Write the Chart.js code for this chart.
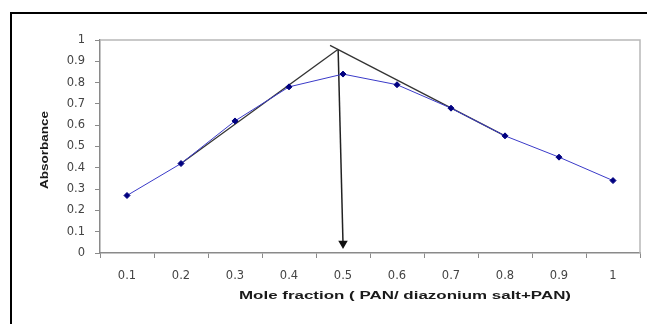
<!DOCTYPE html>
<html>
<head>
<meta charset="utf-8">
<script src="https://cdn.jsdelivr.net/npm/chart.js@4"></script>
<style>
  html, body { margin: 0; padding: 0; background: #fff; }
  #wrap { width: 647px; height: 324px; position: relative; }
</style>
</head>
<body>
<div id="wrap"><canvas id="chart" width="647" height="324"></canvas></div>
<script>
// categories and measured values
const fractions = ["0.1", "0.2", "0.3", "0.4", "0.5", "0.6", "0.7", "0.8", "0.9", "1"];
const absorbance = [0.27, 0.42, 0.62, 0.78, 0.84, 0.79, 0.68, 0.55, 0.45, 0.34];

// tangent lines and arrow (mole fraction, absorbance)
const leftTangentX = [0.2, 0.491];
const leftTangentY = [0.42, 0.957];
const rightTangentX = [0.476, 0.8];
const rightTangentY = [0.975, 0.55];
const arrowX = [0.491, 0.5];
const arrowY = [0.957, 0.045];

const xTitle = "Mole fraction ( PAN/ diazonium salt+PAN)";
const yTitle = "Absorbance";

const toPoints = (xs, ys) => xs.map((x, i) => ({ x: x, y: ys[i] }));

// text stretched to a given width, like the scanned original
function stretchedText(ctx, text, x, y, width, angle) {
  ctx.save();
  ctx.font = "bold 11px 'Liberation Sans', Arial, sans-serif";
  ctx.fillStyle = "#1a1a1a";
  ctx.textAlign = "center";
  ctx.textBaseline = "middle";
  const w = ctx.measureText(text).width;
  ctx.translate(x, y);
  ctx.rotate(angle);
  ctx.scale(width / w, 1);
  ctx.fillText(text, 0, 0);
  ctx.restore();
}

// outer frame, plot border and axis titles
const framePlugin = {
  id: "frame",
  beforeDraw(chart) {
    const ctx = chart.ctx;
    ctx.save();
    ctx.strokeStyle = "#000";
    ctx.lineWidth = 2;
    ctx.beginPath();
    ctx.moveTo(11, 330);
    ctx.lineTo(11, 13);
    ctx.lineTo(660, 13);
    ctx.stroke();
    ctx.restore();
  },
  afterDatasetsDraw(chart) {
    const ctx = chart.ctx;
    const a = chart.chartArea;
    ctx.save();
    ctx.strokeStyle = "#b8b8b8";
    ctx.lineWidth = 1.5;
    ctx.beginPath();
    ctx.moveTo(a.left, a.top);
    ctx.lineTo(a.right, a.top);
    ctx.lineTo(a.right, a.bottom);
    ctx.stroke();
    ctx.restore();
    stretchedText(ctx, xTitle, 405, 296, 332, 0);
    stretchedText(ctx, yTitle, 45, 150, 78, -Math.PI / 2);
  }
};

const tickFont = { family: "'DejaVu Sans', sans-serif", size: 11.5 };

const ctx = document.getElementById("chart");

new Chart(ctx, {
  type: "line",
  data: {
    labels: fractions,
    datasets: [
      {
        label: "Absorbance",
        data: absorbance,
        xAxisID: "x",
        borderColor: "#3a3ac8",
        borderWidth: 1,
        backgroundColor: "#000080",
        pointBackgroundColor: "#000080",
        pointBorderColor: "#000080",
        pointStyle: "rectRot",
        pointRadius: 3,
        tension: 0
      },
      {
        label: "left tangent",
        data: toPoints(leftTangentX, leftTangentY),
        xAxisID: "xl",
        borderColor: "#333",
        borderWidth: 1.3,
        pointRadius: 0
      },
      {
        label: "right tangent",
        data: toPoints(rightTangentX, rightTangentY),
        xAxisID: "xl",
        borderColor: "#333",
        borderWidth: 1.3,
        pointRadius: 0
      },
      {
        label: "arrow",
        data: toPoints(arrowX, arrowY),
        xAxisID: "xl",
        borderColor: "#222",
        borderWidth: 1.5,
        pointRadius: [0, 4],
        pointStyle: "triangle",
        pointRotation: 180,
        pointBackgroundColor: "#111",
        pointBorderColor: "#111"
      }
    ]
  },
  options: {
    responsive: false,
    animation: false,
    events: [],
    layout: { padding: { top: 40, right: 7, left: 0, bottom: 0 } },
    plugins: {
      legend: { display: false },
      tooltip: { enabled: false }
    },
    scales: {
      x: {
        type: "category",
        offset: true,
        afterFit: s => { s.height = 71; },
        border: { color: "#8a8a8a", width: 1.5 },
        grid: { offset: true, drawOnChartArea: false, tickLength: 5, color: "#8a8a8a" },
        ticks: {
          color: "#444",
          padding: 11,
          autoSkip: false,
          maxRotation: 0,
          font: tickFont
        }
      },
      xl: {
        type: "linear",
        display: false,
        min: 0.05,
        max: 1.05
      },
      y: {
        min: 0,
        max: 1,
        afterFit: s => { s.width = 100; },
        border: { color: "#8a8a8a", width: 1.5 },
        grid: { drawOnChartArea: false, tickLength: 5, color: "#8a8a8a" },
        ticks: {
          stepSize: 0.1,
          autoSkip: false,
          color: "#444",
          padding: 10,
          font: tickFont,
          callback: v => String(Math.round(v * 10) / 10)
        }
      }
    }
  },
  plugins: [framePlugin]
});
</script>
</body>
</html>
